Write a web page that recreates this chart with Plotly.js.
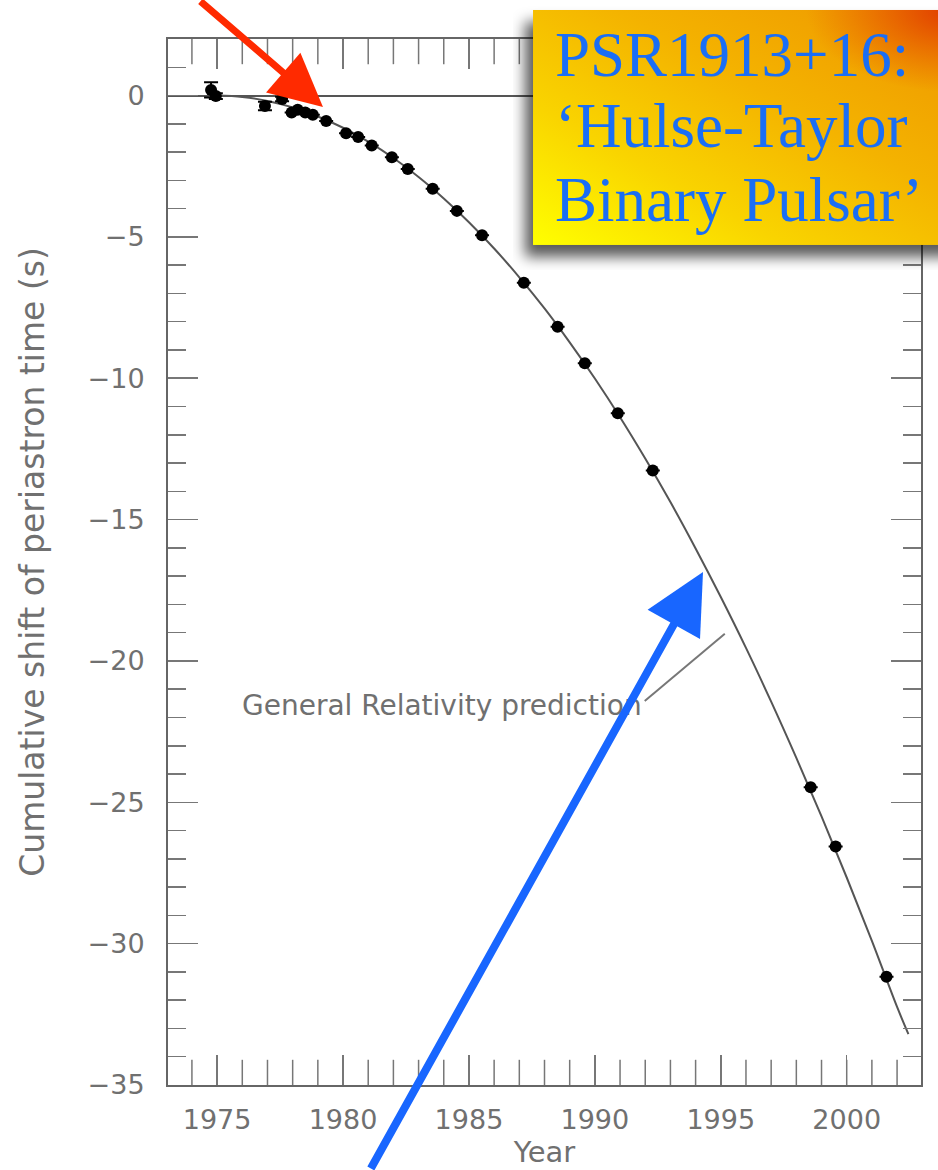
<!DOCTYPE html>
<html>
<head>
<meta charset="utf-8">
<script src="https://cdn.plot.ly/plotly-3.0.1.min.js"></script>
<style>
  html, body { margin: 0; padding: 0; background: #ffffff; }
  #chart { width: 938px; height: 1170px; }
</style>
</head>
<body>
<div id="chart"></div>
<script>
const obsYears = [1974.76, 1974.95, 1976.9, 1977.58, 1977.96, 1978.2, 1978.5, 1978.8, 1979.33,
  1980.12, 1980.6, 1981.14, 1981.94, 1982.57, 1983.56, 1984.52, 1985.52, 1987.18, 1988.52,
  1989.6, 1990.91, 1992.3, 1998.57, 1999.56, 2001.58];
const obsShift = [0.2, -0.02, -0.37, -0.12, -0.6, -0.5, -0.6, -0.68, -0.9,
  -1.33, -1.47, -1.77, -2.18, -2.6, -3.3, -4.08, -4.94, -6.62, -8.18,
  -9.47, -11.24, -13.26, -24.47, -26.56, -31.17];
const obsErr = [0.27, 0.1, 0.15, 0.08, 0, 0, 0, 0, 0,
  0, 0, 0, 0, 0, 0, 0, 0, 0, 0,
  0, 0, 0, 0, 0, 0];

// General Relativity prediction curve
const grYears = [1975, 1976, 1977, 1978, 1979, 1980, 1981, 1982, 1983, 1984, 1985, 1986, 1987,
  1988, 1989, 1990, 1991, 1992, 1993, 1994, 1995, 1996, 1997, 1998, 1999, 2000, 2001, 2002, 2002.45];
const grShift = [0.0, -0.05, -0.19, -0.42, -0.74, -1.14, -1.63, -2.21, -2.88, -3.64, -4.48, -5.41, -6.43,
  -7.53, -8.73, -10.01, -11.38, -12.84, -14.38, -16.02, -17.74, -19.54, -21.44, -23.43, -25.5, -27.66, -29.9, -32.24, -33.2];

// Yearly (minor) tick positions on the x axis
const minorYears = [1974, 1975, 1976, 1977, 1978, 1979, 1980, 1981, 1982, 1983, 1984, 1985, 1986, 1987,
  1988, 1989, 1990, 1991, 1992, 1993, 1994, 1995, 1996, 1997, 1998, 1999, 2000, 2001, 2002];

// Label texts
const xTitle = "Year";
const yTitle = "Cumulative shift of periastron time (s)";
const grLabel = "General Relativity prediction";
const boxLines = ["PSR1913+16:", "\u2018Hulse-Taylor", "Binary Pulsar\u2019"];

const xRange = [1973.05, 2002.95];
const yRange = [-35, 2];

const grey = "#707070";
const tickGrey = "#777777";
const axisFont = {family: "DejaVu Sans", size: 27, color: grey};

const minorTickMarker = {symbol: "line-ns", size: 36, color: tickGrey, line: {color: tickGrey, width: 1.5}};

const traces = [
  {
    x: grYears, y: grShift, type: "scatter", mode: "lines",
    line: {color: "#555555", width: 2, shape: "spline"},
    hoverinfo: "skip", showlegend: false
  },
  {
    x: obsYears, y: obsShift, type: "scatter", mode: "markers",
    marker: {color: "#000000", size: 12, symbol: "circle"},
    error_y: {type: "data", array: obsErr, visible: true, color: "#000000", thickness: 2, width: 7},
    showlegend: false
  },
  // yearly ticks along the bottom and top frame (clipped to the plot area, so they point inward)
  {
    x: minorYears, y: minorYears.map(function () { return yRange[0]; }),
    type: "scatter", mode: "markers", marker: minorTickMarker, cliponaxis: true,
    hoverinfo: "skip", showlegend: false
  },
  {
    x: minorYears, y: minorYears.map(function () { return yRange[1]; }),
    type: "scatter", mode: "markers", marker: minorTickMarker, cliponaxis: true,
    hoverinfo: "skip", showlegend: false
  }
];

// gradient title box as SVG background image (with drop shadow)
const boxSvg =
  '<svg xmlns="http://www.w3.org/2000/svg" width="425" height="270" viewBox="0 0 425 270">' +
  '<defs>' +
  '<linearGradient id="g" x1="0" y1="1" x2="1" y2="0">' +
  '<stop offset="0" stop-color="#ffff00"/>' +
  '<stop offset="0.3" stop-color="#f9d400"/>' +
  '<stop offset="0.6" stop-color="#f4b300"/>' +
  '<stop offset="0.85" stop-color="#f0a000"/>' +
  '<stop offset="1" stop-color="#ef9400"/>' +
  '</linearGradient>' +
  '<radialGradient id="r" cx="1" cy="0" r="0.35">' +
  '<stop offset="0" stop-color="#e03a00" stop-opacity="1"/>' +
  '<stop offset="1" stop-color="#e85000" stop-opacity="0"/>' +
  '</radialGradient>' +
  '<filter id="s" x="-20%" y="-20%" width="140%" height="150%"><feGaussianBlur stdDeviation="7"/></filter>' +
  '</defs>' +
  '<rect x="12" y="22" width="440" height="235" fill="#000" fill-opacity="0.65" filter="url(#s)"/>' +
  '<rect x="20" y="10" width="420" height="235" fill="url(#g)"/>' +
  '<rect x="20" y="10" width="420" height="235" fill="url(#r)"/>' +
  '</svg>';
const boxSrc = "data:image/svg+xml;charset=utf-8," + encodeURIComponent(boxSvg);

const boxFont = {family: "Liberation Serif, Times New Roman, serif", size: 63, color: "#1a6ef5"};
const boxY = [0.9847, 0.9168, 0.8461];

const annotations = [
  {
    x: 1983.93, y: -21.56, xref: "x", yref: "y", text: grLabel, showarrow: false,
    font: {family: "DejaVu Sans", size: 28, color: grey}, xanchor: "center", yanchor: "middle"
  },
  {
    x: 0.2058, y: 0.935, xref: "paper", yref: "paper", text: "", showarrow: true,
    ax: -124, ay: -112, axref: "pixel", ayref: "pixel",
    arrowcolor: "#ff2a00", arrowwidth: 7, arrowhead: 2, arrowsize: 1.5, standoff: 0
  },
  {
    x: 0.7105, y: 0.4904, xref: "paper", yref: "paper", text: "", showarrow: true,
    ax: -333, ay: 605, axref: "pixel", ayref: "pixel",
    arrowcolor: "#1866ff", arrowwidth: 8, arrowhead: 2, arrowsize: 1.5, standoff: 0
  }
];
boxLines.forEach(function (t, i) {
  annotations.push({
    x: 0.5113, y: boxY[i], xref: "paper", yref: "paper", text: t, showarrow: false,
    font: boxFont, xanchor: "left", yanchor: "middle"
  });
});

const layout = {
  width: 938, height: 1170,
  margin: {l: 168, r: 17, t: 39, b: 85},
  paper_bgcolor: "#ffffff", plot_bgcolor: "#ffffff",
  showlegend: false,
  xaxis: {
    type: "linear",
    range: xRange, tickmode: "linear", tick0: 1975, dtick: 5,
    ticks: "inside", ticklen: 30, tickwidth: 1.5, tickcolor: tickGrey,
    showline: true, linecolor: "#666666", linewidth: 2, mirror: "allticks",
    showgrid: false, zeroline: false,
    tickfont: axisFont, ticklabelstandoff: 10,
    title: {text: xTitle, font: {family: "DejaVu Sans", size: 29, color: grey}, standoff: 5}
  },
  yaxis: {
    type: "linear",
    range: yRange, tickmode: "linear", tick0: 0, dtick: 5,
    ticks: "inside", ticklen: 30, tickwidth: 1.5, tickcolor: tickGrey,
    minor: {tickmode: "linear", tick0: 0, dtick: 1, ticks: "inside", ticklen: 18, tickwidth: 1.5, tickcolor: tickGrey, showgrid: false},
    showline: true, linecolor: "#666666", linewidth: 2, mirror: "allticks",
    showgrid: false, zeroline: true, zerolinecolor: "#555555", zerolinewidth: 2,
    tickfont: axisFont, ticklabelstandoff: 16,
    title: {text: yTitle, font: {family: "DejaVu Sans", size: 33, color: grey}, standoff: 33}
  },
  shapes: [
    {type: "line", xref: "x", yref: "y", x0: 1991.98, y0: -21.42, x1: 1995.16, y1: -19.04,
     line: {color: tickGrey, width: 2}}
  ],
  images: [
    {source: boxSrc, xref: "paper", yref: "paper", x: 0.4582, y: 1.0373,
     sizex: 0.5644, sizey: 0.2581, sizing: "stretch", xanchor: "left", yanchor: "top", layer: "above"}
  ],
  annotations: annotations
};

Plotly.newPlot("chart", traces, layout, {displayModeBar: false, staticPlot: true});
</script>
</body>
</html>
